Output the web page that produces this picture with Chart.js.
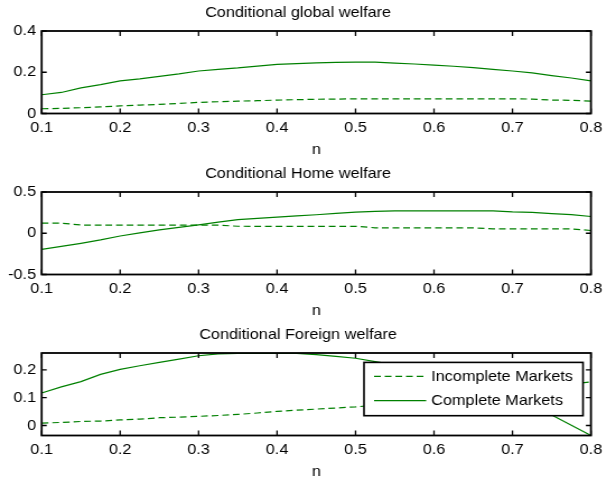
<!DOCTYPE html>
<html>
<head>
<meta charset="utf-8">
<script src="https://cdn.jsdelivr.net/npm/chart.js@4/dist/chart.umd.min.js"></script>
<style>
  html, body { margin: 0; padding: 0; background: #fff; overflow: hidden; width: 608px; height: 479px; }
  .panel { position: absolute; left: 0; transform: scaleX(1.12); transform-origin: 0 0; }
  canvas { display: block; }
</style>
</head>
<body>
<div class="panel" style="top:0px"><canvas id="cGlobal" width="543" height="161"></canvas></div>
<div class="panel" style="top:161px"><canvas id="cHome" width="543" height="161"></canvas></div>
<div class="panel" style="top:322px"><canvas id="cForeign" width="543" height="161"></canvas></div>
<script>
// Share of Home households, n
const N = [0.1, 0.125, 0.15, 0.175, 0.2, 0.225, 0.25, 0.275, 0.3, 0.325, 0.35, 0.375, 0.4, 0.425,
           0.45, 0.475, 0.5, 0.525, 0.55, 0.575, 0.6, 0.625, 0.65, 0.675, 0.7, 0.725, 0.75, 0.775, 0.8];

// Conditional global welfare
const GLOBAL_INCOMPLETE = [0.023, 0.025, 0.028, 0.032, 0.037, 0.041, 0.044, 0.049, 0.054, 0.057, 0.060, 0.062, 0.065, 0.067,
                           0.069, 0.070, 0.071, 0.071, 0.071, 0.071, 0.071, 0.071, 0.071, 0.071, 0.071, 0.070, 0.065, 0.064, 0.060];
const GLOBAL_COMPLETE = [0.091, 0.102, 0.124, 0.140, 0.158, 0.168, 0.180, 0.192, 0.206, 0.214, 0.221, 0.230, 0.238, 0.242,
                         0.245, 0.248, 0.249, 0.249, 0.244, 0.240, 0.235, 0.229, 0.222, 0.214, 0.206, 0.197, 0.184, 0.172, 0.158];

// Conditional Home welfare
const HOME_INCOMPLETE = [0.122, 0.122, 0.100, 0.098, 0.098, 0.098, 0.098, 0.098, 0.098, 0.098, 0.085, 0.084, 0.084, 0.084,
                         0.084, 0.084, 0.084, 0.066, 0.065, 0.065, 0.065, 0.065, 0.065, 0.053, 0.053, 0.053, 0.053, 0.053, 0.033];
const HOME_COMPLETE = [-0.195, -0.160, -0.122, -0.080, -0.033, 0.005, 0.041, 0.072, 0.102, 0.134, 0.164, 0.180, 0.196, 0.210,
                       0.224, 0.240, 0.256, 0.264, 0.272, 0.272, 0.272, 0.272, 0.272, 0.272, 0.258, 0.254, 0.238, 0.226, 0.203];

// Conditional Foreign welfare
const FOREIGN_INCOMPLETE = [0.0085, 0.011, 0.0145, 0.016, 0.020, 0.023, 0.028, 0.030, 0.033, 0.036, 0.040, 0.045, 0.051, 0.055,
                            0.059, 0.063, 0.067, 0.073, 0.078, 0.085, 0.092, 0.100, 0.107, 0.115, 0.123, 0.132, 0.140, 0.149, 0.157];
const FOREIGN_COMPLETE = [0.117, 0.139, 0.158, 0.184, 0.202, 0.215, 0.227, 0.239, 0.251, 0.258, 0.260, 0.260, 0.260, 0.260,
                          0.255, 0.249, 0.242, 0.230, 0.218, 0.204, 0.188, 0.170, 0.148, 0.124, 0.098, 0.070, 0.038, 0.001, -0.036];

// Tick labels
const X_TICKS = [0.1, 0.2, 0.3, 0.4, 0.5, 0.6, 0.7, 0.8];
const Y_TICKS_GLOBAL = [0, 0.2, 0.4];
const Y_TICKS_HOME = [-0.5, 0, 0.5];
const Y_TICKS_FOREIGN = [0, 0.1, 0.2];

const SERIES_NAMES = ['Incomplete Markets', 'Complete Markets'];

const FONT_FAMILY = "'Liberation Sans', Arial, Helvetica, sans-serif";
const FONT = { family: FONT_FAMILY, size: 14.5, weight: 'normal' };
const GREEN = '#008000';

// Axes box with inward tick marks on all four sides
const framePlugin = {
  id: 'frame',
  afterDraw(chart) {
    const { ctx, chartArea: a, scales } = chart;
    ctx.save();
    ctx.strokeStyle = '#000';
    ctx.lineWidth = 1.3;
    ctx.beginPath();
    scales.x.ticks.forEach(t => {
      const px = scales.x.getPixelForValue(t.value);
      ctx.moveTo(px, a.bottom); ctx.lineTo(px, a.bottom - 5);
      ctx.moveTo(px, a.top); ctx.lineTo(px, a.top + 5);
    });
    scales.y.ticks.forEach(t => {
      const py = scales.y.getPixelForValue(t.value);
      ctx.moveTo(a.left, py); ctx.lineTo(a.left + 4.5, py);
      ctx.moveTo(a.right, py); ctx.lineTo(a.right - 4.5, py);
    });
    ctx.stroke();
    ctx.lineWidth = 1.8;
    ctx.strokeRect(a.left, a.top, a.right - a.left, a.bottom - a.top);
    ctx.restore();
  }
};

// Boxed legend placed inside the upper-right corner of the axes
const innerLegendPlugin = {
  id: 'innerLegend',
  afterDraw(chart, args, opts) {
    if (!opts.show) return;
    const { ctx, chartArea: a } = chart;
    ctx.save();
    ctx.font = `${FONT.size}px ${FONT_FAMILY}`;
    const textW = Math.max(...chart.data.datasets.map(d => ctx.measureText(d.label).width));
    const padL = 9, sample = 46.5, gap = 4.5, padR = 9;
    const w = padL + sample + gap + textW + padR;
    const h = 53.3;
    const right = a.right - 7.1;
    const left = right - w;
    const top = a.top + 9.4;
    ctx.fillStyle = '#fff';
    ctx.fillRect(left, top, w, h);
    ctx.strokeStyle = '#000';
    ctx.lineWidth = 1.6;
    ctx.strokeRect(left, top, w, h);
    const rows = [top + 14, top + 38.3];
    chart.data.datasets.forEach((d, i) => {
      ctx.strokeStyle = d.borderColor;
      ctx.lineWidth = d.borderWidth;
      ctx.setLineDash(d.borderDash || []);
      ctx.beginPath();
      ctx.moveTo(left + padL, rows[i]);
      ctx.lineTo(left + padL + sample, rows[i]);
      ctx.stroke();
      ctx.setLineDash([]);
      ctx.fillStyle = '#000';
      ctx.textAlign = 'left';
      ctx.textBaseline = 'middle';
      ctx.fillText(d.label, left + padL + sample + gap, rows[i] + 0.5);
    });
    ctx.restore();
  }
};

function points(values) {
  return N.map((n, i) => ({ x: n, y: values[i] }));
}

function makePanel(id, title, incomplete, complete, yMin, yMax, yTicks, showLegend) {
  return new Chart(document.getElementById(id), {
    type: 'line',
    data: {
      datasets: [
        { label: SERIES_NAMES[0], data: points(incomplete), borderColor: GREEN, borderWidth: 1.2,
          borderDash: [6, 3.5], pointRadius: 0, tension: 0, fill: false },
        { label: SERIES_NAMES[1], data: points(complete), borderColor: GREEN, borderWidth: 1.2,
          pointRadius: 0, tension: 0, fill: false }
      ]
    },
    options: {
      responsive: false,
      devicePixelRatio: 1,
      animation: false,
      events: [],
      layout: { padding: { left: 0, right: 10.7, top: 0, bottom: 0 } },
      scales: {
        x: {
          type: 'linear', min: 0.1, max: 0.8,
          afterBuildTicks: s => { s.ticks = X_TICKS.map(v => ({ value: v })); },
          afterFit: s => { s.height = 47.5; },
          grid: { display: false, drawTicks: false },
          border: { display: false },
          ticks: { autoSkip: false, maxRotation: 0, padding: 5.3, color: '#000', font: FONT,
                   callback: v => String(v) },
          title: { display: true, text: 'n', color: '#000', font: FONT, padding: { top: 0, bottom: 2.3 } }
        },
        y: {
          min: yMin, max: yMax,
          afterBuildTicks: s => { s.ticks = yTicks.map(v => ({ value: v })); },
          afterFit: s => { s.width = 37.2; },
          grid: { display: false, drawTicks: false },
          border: { display: false },
          ticks: { padding: 5, color: '#000', font: FONT, callback: v => String(v) }
        }
      },
      plugins: {
        legend: { display: false },
        tooltip: { enabled: false },
        title: { display: true, text: title, color: '#000', font: FONT, padding: { top: 3.8, bottom: 9.8 } },
        innerLegend: { show: showLegend }
      }
    },
    plugins: [framePlugin, innerLegendPlugin]
  });
}

makePanel('cGlobal', 'Conditional global welfare', GLOBAL_INCOMPLETE, GLOBAL_COMPLETE, 0, 0.4, Y_TICKS_GLOBAL, false);
makePanel('cHome', 'Conditional Home welfare', HOME_INCOMPLETE, HOME_COMPLETE, -0.5, 0.5, Y_TICKS_HOME, false);
makePanel('cForeign', 'Conditional Foreign welfare', FOREIGN_INCOMPLETE, FOREIGN_COMPLETE, -0.036, 0.261, Y_TICKS_FOREIGN, true);
</script>
</body>
</html>
